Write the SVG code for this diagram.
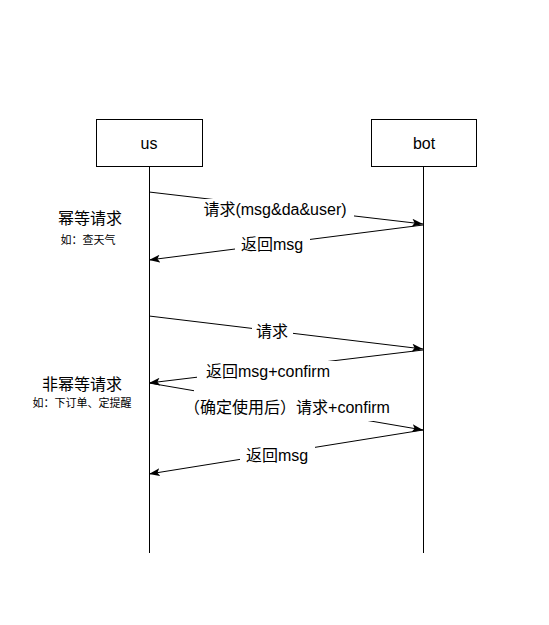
<svg xmlns="http://www.w3.org/2000/svg" width="549" height="625" viewBox="0 0 549 625">
<style>
.box{fill:#fff;stroke:#000;stroke-width:1}
.life{stroke:#000;stroke-width:1;fill:none}
.msg{stroke:#000;stroke-width:1;fill:none;marker-end:url(#arr)}
.bg{fill:#fff;stroke:none}
text{font-family:"Liberation Sans","Noto Sans CJK SC",sans-serif;fill:#000}
.lbl{font-size:16px;text-anchor:middle;dominant-baseline:central}
.note{font-size:11px;text-anchor:middle;dominant-baseline:central}
</style>
<defs>
<marker id="arr" markerUnits="userSpaceOnUse" markerWidth="12" markerHeight="10" refX="11" refY="4" orient="auto">
<path d="M0,0 L11,4 L0,8 L2.5,4 Z" fill="#000"/>
</marker>
</defs>
<rect width="549" height="625" fill="#fff"/>
<g id="us">
<rect class="box" x="96.5" y="119.5" width="106" height="47"/>
<text class="lbl" x="149" y="143">us</text>
<line class="life" x1="149.5" y1="166" x2="149.5" y2="553"/>
</g>
<g id="bot">
<rect class="box" x="371.5" y="119.5" width="105" height="47"/>
<text class="lbl" x="424" y="143">bot</text>
<line class="life" x1="423.5" y1="166" x2="423.5" y2="553"/>
</g>
<g id="notes">
<text class="lbl" x="90" y="218">幂等请求</text>
<text class="note" x="88" y="240">如：查天气</text>
<text class="lbl" x="82" y="384">非幂等请求</text>
<text class="note" x="82" y="403">如：下订单、定提醒</text>
</g>
<g id="connectors">
<line class="msg" x1="149" y1="192" x2="423" y2="224"/>
<rect class="bg" x="198" y="199" width="156" height="19"/>
<text class="lbl" x="275" y="209">请求(msg&amp;da&amp;user)</text>
<line class="msg" x1="423" y1="225" x2="149" y2="260"/>
<rect class="bg" x="235" y="234" width="75" height="20"/>
<text class="lbl" x="272" y="244">返回msg</text>
<line class="msg" x1="149" y1="316" x2="423" y2="349"/>
<rect class="bg" x="252" y="321" width="41" height="20"/>
<text class="lbl" x="272" y="331">请求</text>
<line class="msg" x1="423" y1="350" x2="149" y2="383"/>
<rect class="bg" x="197" y="361" width="141" height="19"/>
<text class="lbl" x="268" y="371">返回msg+confirm</text>
<line class="msg" x1="149" y1="383" x2="423" y2="430"/>
<rect class="bg" x="194" y="390" width="180" height="31"/>
<rect class="bg" x="183" y="397" width="208" height="20"/>
<text class="lbl" x="287" y="407">（确定使用后）请求+confirm</text>
<line class="msg" x1="423" y1="430" x2="149" y2="474"/>
<rect class="bg" x="240" y="445" width="75" height="20"/>
<text class="lbl" x="277" y="455">返回msg</text>
</g>
</svg>
